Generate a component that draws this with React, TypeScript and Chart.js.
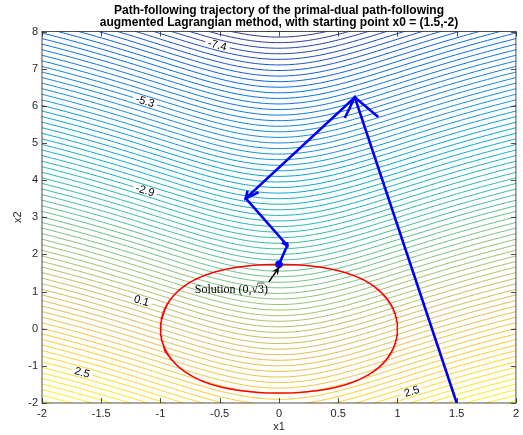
import React, { useEffect, useRef } from "react";
import { Chart, registerables } from "chart.js";

Chart.register(...registerables);

// ---------- data ----------
const TITLE_LINES = [
  "Path-following trajectory of the primal-dual path-following",
  "augmented Lagrangian method, with starting point x0 = (1.5,-2)",
];
const X_LABEL = "x1";
const Y_LABEL = "x2";
const X_MIN = -2;
const X_MAX = 2;
const Y_MIN = -2;
const Y_MAX = 8;
const X_STEP = 0.5;
const Y_STEP = 1;

// contour levels of the objective f(x) = log(1 + x1^2) - x2
const LEVEL_FIRST = -8.0;
const LEVEL_LAST = 3.6;
const LEVEL_STEP = 0.15;
const COLOR_MIN = -8.0;
const COLOR_MAX = 3.61;

// iterates of the path-following method
const PATH_X1 = [1.5, 0.64, -0.28, 0.07, 0.0];
const PATH_X2 = [-2.0, 6.23, 3.51, 2.24, 1.732];

// inline contour labels (level, x1 position)
const LABEL_LEVELS = [-7.4, -5.3, -2.9, 0.1, 2.5, 2.5];
const LABEL_X1 = [-0.52, -1.13, -1.13, -1.16, -1.66, 1.12];

// annotation
const ANNOT_TAIL = [-0.085, 1.26];
const ANNOT_TIP = [0.005, 1.67];
const ANNOT_TEXT_POS = [-0.71, 0.96];

const PARULA = ["#352a87", "#0363e1", "#1485d4", "#06a7c6", "#38b99e", "#92bf73", "#d9ba56", "#fcce2e", "#f9fb0e"];

// ---------- helpers ----------
const contourX2 = (x1: number, level: number) => Math.log(1 + x1 * x1) - level;

function hexToRgb(h: string) {
  return [parseInt(h.slice(1, 3), 16), parseInt(h.slice(3, 5), 16), parseInt(h.slice(5, 7), 16)];
}
function parula(t: number) {
  t = Math.max(0, Math.min(1, t));
  const n = PARULA.length - 1;
  const p = t * n;
  const i = Math.min(Math.floor(p), n - 1);
  const f = p - i;
  const a = hexToRgb(PARULA[i]);
  const b = hexToRgb(PARULA[i + 1]);
  const c = a.map((v, k) => Math.round(v + (b[k] - v) * f));
  return `rgb(${c[0]},${c[1]},${c[2]})`;
}

const ARROW_A = 0.066;
const ARROW_B = 0.26;

const FONT = "'Liberation Sans', Arial, Helvetica, sans-serif";
const SERIF = "'Liberation Serif', 'DejaVu Serif', serif";

export default function App() {
  const ref = useRef<HTMLCanvasElement>(null);

  useEffect(() => {
    const canvas = ref.current!;
    const datasets: any[] = [];

    // contour lines
    for (let k = 0; ; k++) {
      const level = +(LEVEL_FIRST + k * LEVEL_STEP).toFixed(3);
      if (level > LEVEL_LAST + 1e-9) break;
      const pts: { x: number; y: number }[] = [];
      for (let i = 0; i <= 200; i++) {
        const x1 = X_MIN + ((X_MAX - X_MIN) * i) / 200;
        pts.push({ x: x1, y: contourX2(x1, level) });
      }
      datasets.push({
        data: pts,
        borderColor: parula((level - COLOR_MIN) / (COLOR_MAX - COLOR_MIN)),
        borderWidth: 1,
        pointRadius: 0,
        showLine: true,
        tension: 0,
        clip: 0,
        order: 3,
      });
    }

    // constraint (1 + x1^2)^2 + x2^2 = 4
    const cpts: { x: number; y: number }[] = [];
    const N = 240;
    for (let i = 0; i <= N; i++) {
      const th = -Math.PI / 3 + ((2 * Math.PI) / 3) * (i / N);
      cpts.push({ x: Math.sqrt(Math.max(0, 2 * Math.cos(th) - 1)), y: 2 * Math.sin(th) });
    }
    for (let i = 0; i <= N; i++) {
      const th = Math.PI / 3 - ((2 * Math.PI) / 3) * (i / N);
      cpts.push({ x: -Math.sqrt(Math.max(0, 2 * Math.cos(th) - 1)), y: 2 * Math.sin(th) });
    }
    datasets.push({
      data: cpts,
      borderColor: "#ff0000",
      borderWidth: 1.5,
      pointRadius: 0,
      showLine: true,
      tension: 0,
      clip: 0,
      order: 2,
    });

    // path
    datasets.push({
      data: PATH_X1.map((x, i) => ({ x, y: PATH_X2[i] })),
      borderColor: "#0000ff",
      backgroundColor: "#0000ff",
      pointBackgroundColor: "#0000ff",
      pointBorderColor: "#0000ff",
      borderWidth: 2.6,
      pointRadius: PATH_X1.map((_, i) => (i === PATH_X1.length - 1 ? 2.5 : 0)),
      showLine: true,
      tension: 0,
      clip: 0,
      order: 1,
    });

    const overlay = {
      id: "overlay",
      afterDatasetsDraw(chart: any) {
        const { ctx, scales } = chart;
        const xs = scales.x;
        const ys = scales.y;
        const px = (v: number) => xs.getPixelForValue(v);
        const py = (v: number) => ys.getPixelForValue(v);

        // contour labels
        ctx.save();
        ctx.font = `11px ${FONT}`;
        ctx.textAlign = "center";
        ctx.textBaseline = "middle";
        LABEL_LEVELS.forEach((lev, i) => {
          const x1 = LABEL_X1[i];
          const cx = px(x1);
          const cy = py(contourX2(x1, lev));
          const dx = px(x1 + 0.01) - cx;
          const dy = py(contourX2(x1 + 0.01, lev)) - cy;
          const ang = Math.atan2(dy, dx);
          const txt = lev.toFixed(1);
          const w = ctx.measureText(txt).width;
          ctx.save();
          ctx.translate(cx, cy);
          ctx.rotate(ang);
          ctx.fillStyle = "#ffffff";
          ctx.fillRect(-w / 2 - 3, -4, w + 6, 8);
          ctx.fillStyle = "#000000";
          ctx.fillText(txt, 0, 0.5);
          ctx.restore();
        });
        ctx.restore();

        // path arrowheads (quiver style, in data units)
        ctx.save();
        ctx.strokeStyle = "#0000ff";
        ctx.lineWidth = 2.6;
        ctx.lineJoin = "miter";
        ctx.lineCap = "butt";
        for (let i = 1; i < PATH_X1.length; i++) {
          const u = PATH_X1[i] - PATH_X1[i - 1];
          const v = PATH_X2[i] - PATH_X2[i - 1];
          const tx = PATH_X1[i];
          const ty = PATH_X2[i];
          const w1x = tx - ARROW_A * (u + ARROW_B * v);
          const w1y = ty - ARROW_A * (v - ARROW_B * u);
          const w2x = tx - ARROW_A * (u - ARROW_B * v);
          const w2y = ty - ARROW_A * (v + ARROW_B * u);
          ctx.beginPath();
          ctx.moveTo(px(w1x), py(w1y));
          ctx.lineTo(px(tx), py(ty));
          ctx.lineTo(px(w2x), py(w2y));
          ctx.stroke();
        }
        ctx.restore();

        // annotation arrow
        ctx.save();
        const ax0 = px(ANNOT_TAIL[0]);
        const ay0 = py(ANNOT_TAIL[1]);
        const ax1 = px(ANNOT_TIP[0]);
        const ay1 = py(ANNOT_TIP[1]);
        ctx.strokeStyle = "#000";
        ctx.fillStyle = "#000";
        ctx.lineWidth = 1.6;
        ctx.beginPath();
        ctx.moveTo(ax0, ay0);
        ctx.lineTo(ax1, ay1);
        ctx.stroke();
        const a = Math.atan2(ay1 - ay0, ax1 - ax0);
        const L = 9;
        ctx.beginPath();
        ctx.moveTo(ax1, ay1);
        ctx.lineTo(ax1 - L * Math.cos(a - 0.4), ay1 - L * Math.sin(a - 0.4));
        ctx.lineTo(ax1 - L * 0.6 * Math.cos(a), ay1 - L * 0.6 * Math.sin(a));
        ctx.lineTo(ax1 - L * Math.cos(a + 0.4), ay1 - L * Math.sin(a + 0.4));
        ctx.closePath();
        ctx.fill();

        // annotation text
        const tx0 = px(ANNOT_TEXT_POS[0]);
        const ty0 = py(ANNOT_TEXT_POS[1]);
        ctx.font = `12px ${SERIF}`;
        ctx.textAlign = "left";
        ctx.textBaseline = "alphabetic";
        const p1 = "Solution (0,";
        ctx.fillText(p1, tx0, ty0);
        let xx = tx0 + ctx.measureText(p1).width;
        ctx.fillText("\u221A", xx, ty0);
        xx += ctx.measureText("\u221A").width;
        const w3 = ctx.measureText("3").width;
        ctx.fillText("3", xx, ty0);
        ctx.lineWidth = 0.7;
        ctx.beginPath();
        ctx.moveTo(xx - 0.5, ty0 - 10);
        ctx.lineTo(xx + w3 + 0.3, ty0 - 10);
        ctx.stroke();
        ctx.fillText(")", xx + w3, ty0);
        ctx.restore();
      },
      afterDraw(chart: any) {
        const { ctx, chartArea, scales } = chart;
        const { left, right, top, bottom } = chartArea;
        ctx.save();
        // ticks inward on all four sides
        ctx.strokeStyle = "#262626";
        ctx.lineWidth = 0.8;
        ctx.beginPath();
        scales.x.ticks.forEach((t: any) => {
          const x = Math.round(scales.x.getPixelForValue(t.value)) + 0.5;
          ctx.moveTo(x, bottom);
          ctx.lineTo(x, bottom - 5);
          ctx.moveTo(x, top);
          ctx.lineTo(x, top + 5);
        });
        scales.y.ticks.forEach((t: any) => {
          const y = Math.round(scales.y.getPixelForValue(t.value)) + 0.5;
          ctx.moveTo(left, y);
          ctx.lineTo(left + 5, y);
          ctx.moveTo(right, y);
          ctx.lineTo(right - 5, y);
        });
        ctx.stroke();
        ctx.strokeRect(left, top, right - left, bottom - top);

        // title
        ctx.fillStyle = "#000";
        ctx.font = `bold 12px ${FONT}`;
        ctx.textAlign = "center";
        ctx.textBaseline = "middle";
        const cx = (left + right) / 2;
        ctx.fillText(TITLE_LINES[0], cx, 11);
        ctx.fillText(TITLE_LINES[1], cx, 22.5);
        ctx.restore();
      },
    };

    const chart = new Chart(canvas, {
      type: "scatter",
      data: { datasets },
      options: {
        animation: false,
        responsive: false,
        maintainAspectRatio: false,
        events: [],
        layout: { padding: { top: 31.5, right: 5, left: 0, bottom: 0 } },
        plugins: { legend: { display: false }, tooltip: { enabled: false }, title: { display: false } },
        scales: {
          x: {
            type: "linear",
            min: X_MIN,
            max: X_MAX,
            afterFit: (s: any) => {
              s.height = 32;
            },
            ticks: {
              stepSize: X_STEP,
              padding: 4,
              color: "#262626",
              font: { family: FONT, size: 11 },
              callback: (v: any) => String(v),
            },
            grid: { display: false, drawTicks: false },
            border: { display: false },
            title: {
              display: true,
              text: X_LABEL,
              color: "#262626",
              font: { family: FONT, size: 11 },
              padding: { top: 0, bottom: 1.5 },
            },
          },
          y: {
            type: "linear",
            min: Y_MIN,
            max: Y_MAX,
            afterFit: (s: any) => {
              s.width = 42;
            },
            ticks: {
              stepSize: Y_STEP,
              padding: 4,
              color: "#262626",
              font: { family: FONT, size: 11 },
              callback: (v: any) => String(v),
            },
            grid: { display: false, drawTicks: false },
            border: { display: false },
            title: {
              display: true,
              text: Y_LABEL,
              color: "#262626",
              font: { family: FONT, size: 11 },
              padding: { top: 11, bottom: 0 },
            },
          },
        },
      },
      plugins: [overlay],
    });

    return () => chart.destroy();
  }, []);

  return (
    <div style={{ position: "fixed", left: 0, top: 0, width: 523, height: 435, background: "#fff" }}>
      <canvas ref={ref} width={523} height={435} style={{ display: "block" }} />
    </div>
  );
}
